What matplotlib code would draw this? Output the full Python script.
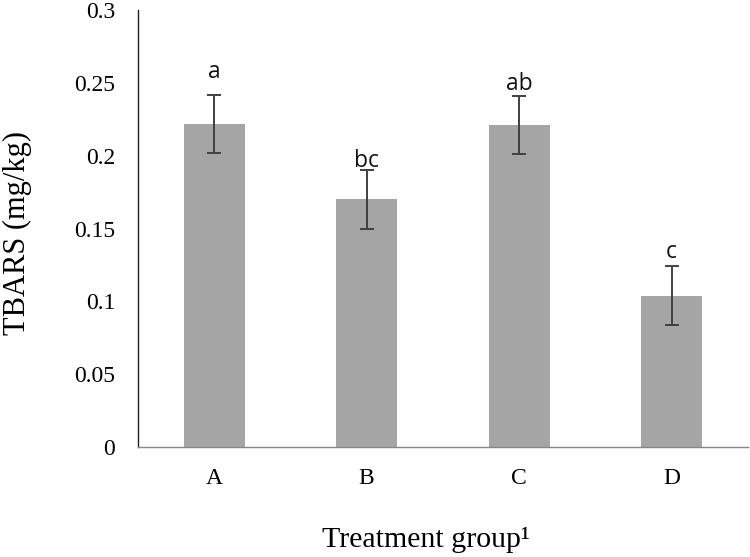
import matplotlib
matplotlib.use("Agg")
import matplotlib.pyplot as plt
import numpy as np

groups = ["A", "B", "C", "D"]
means = [0.222, 0.170, 0.221, 0.104]
errors = [0.020, 0.020, 0.020, 0.020]
letters = ["a", "bc", "ab", "c"]
letter_offsets = [0.011, 0.002, 0.004, 0.006]
yticks = [0, 0.05, 0.1, 0.15, 0.2, 0.25, 0.3]
ytick_labels = ["0", "0.05", "0.1", "0.15", "0.2", "0.25", "0.3"]

serif = ["Liberation Serif", "DejaVu Serif"]

fig = plt.figure(figsize=(7.5, 5.57), dpi=100)
ax = fig.add_axes([0.184, 0.1975, 0.813, 0.7845])

x = np.arange(len(groups))
ax.bar(x, means, width=0.4, color="#A5A5A5", zorder=2)
ax.errorbar(x, means, yerr=errors, fmt="none", ecolor="#404040",
            elinewidth=1.4, capsize=4.8, capthick=1.4, zorder=3)

for xi, m, e, lab, off in zip(x, means, errors, letters, letter_offsets):
    ax.text(xi, m + e + off, lab, ha="center", va="baseline",
            fontsize=16.5, family=["Open Sans", "DejaVu Sans"], color="#111111")

ax.set_xlim(-0.5, 3.5)
ax.set_ylim(0, 0.3)
ax.set_yticks(yticks)
ax.set_yticklabels(ytick_labels, family=serif, fontsize=17)
ax.set_xticks(x)
ax.set_xticklabels(groups, family=serif, fontsize=17)
ax.tick_params(axis="both", length=0)
ax.tick_params(axis="y", pad=16.5)
ax.tick_params(axis="x", pad=15)

for s in ["top", "right"]:
    ax.spines[s].set_visible(False)
ax.spines["left"].set_color("#222222")
ax.spines["left"].set_linewidth(1.0)
ax.spines["bottom"].set_color("#888888")
ax.spines["bottom"].set_linewidth(1.0)

ax.set_ylabel("TBARS (mg/kg)", family=serif, fontsize=22, va="center")
ax.yaxis.set_label_coords(-0.197, 0.49)
ax.set_xlabel("Treatment group\u00b9", family=serif, fontsize=21.5, va="center")
ax.xaxis.set_label_coords(0.472, -0.213)

fig.savefig("out.png", dpi=100)
